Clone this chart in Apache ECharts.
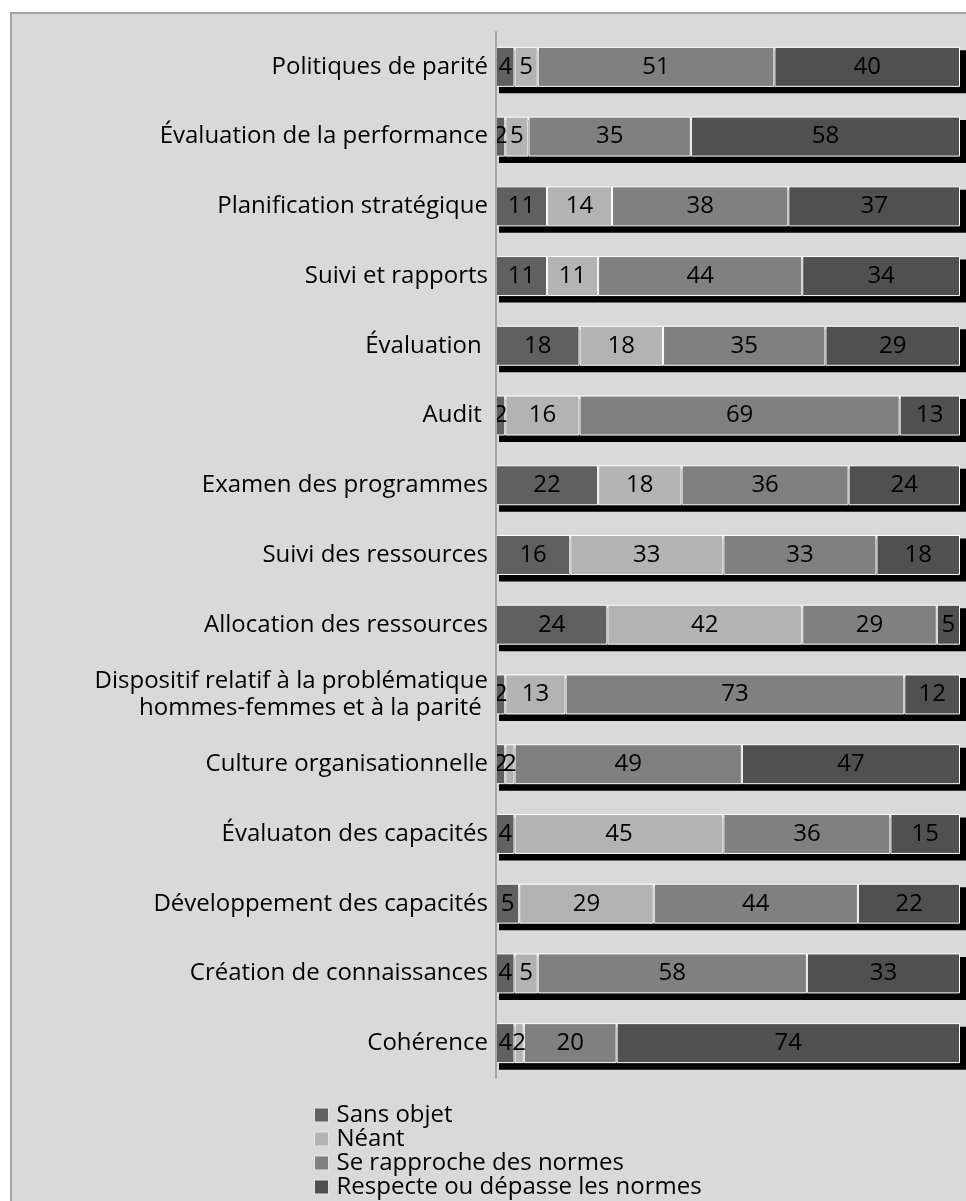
<!DOCTYPE html>
<html>
<head>
<meta charset="utf-8">
<script src="https://cdn.jsdelivr.net/npm/echarts@6/dist/echarts.min.js"></script>
<style>
html,body{margin:0;padding:0;background:#fff;}
#chart{width:966px;height:1201px;}
</style>
</head>
<body>
<div id="chart"></div>
<script>
const categories = [
  "Politiques de parité",
  "Évaluation de la performance",
  "Planification stratégique",
  "Suivi et rapports",
  "Évaluation ",
  "Audit ",
  "Examen des programmes",
  "Suivi des ressources",
  "Allocation des ressources",
  "Dispositif relatif à la problématique\nhommes-femmes et à la parité ",
  "Culture organisationnelle",
  "Évaluaton des capacités",
  "Développement des capacités",
  "Création de connaissances",
  "Cohérence"
];
const seriesNames = ["Sans objet", "Néant", "Se rapproche des normes", "Respecte ou dépasse les normes"];
const sansObjet   = [4, 2, 11, 11, 18, 2, 22, 16, 24, 2, 2, 4, 5, 4, 4];
const neant       = [5, 5, 14, 11, 18, 16, 18, 33, 42, 13, 2, 45, 29, 5, 2];
const seRapproche = [51, 35, 38, 44, 35, 69, 36, 33, 29, 73, 49, 36, 44, 58, 20];
const respecte    = [40, 58, 37, 34, 29, 13, 24, 18, 5, 12, 47, 15, 22, 33, 74];
const colors = ["#606060", "#b3b3b3", "#808080", "#505050"];

const FONT = "Open Sans";
const values = [sansObjet, neant, seRapproche, respecte];
const totals = categories.map((_, k) => values.reduce((s, arr) => s + arr[k], 0));

const chart = echarts.init(document.getElementById('chart'), null, {renderer: 'canvas'});
chart.setOption({
  animation: false,
  backgroundColor: '#ffffff',
  textStyle: {fontFamily: FONT},
  graphic: [{
    type: 'rect', z: -100, silent: true,
    shape: {x: 11, y: 13, width: 1000, height: 1300},
    style: {fill: '#d9d9d9', stroke: '#a6a6a6', lineWidth: 2}
  }],
  grid: [
    {left: 496, right: 6, top: 32, height: 1046, containLabel: false},
    {left: 499, right: 0, top: 37, height: 1046, containLabel: false}
  ],
  xAxis: [
    {type: 'value', min: 0, max: 100, show: false, gridIndex: 0},
    {type: 'value', min: 0, max: 100, show: false, gridIndex: 1}
  ],
  yAxis: [{
    type: 'category', data: categories, inverse: true, gridIndex: 0, z: 3,
    axisLine: {show: true, lineStyle: {color: '#a6a6a6', width: 2}},
    axisTick: {show: false},
    axisLabel: {color: '#000', fontSize: 24, fontFamily: FONT, margin: 8, lineHeight: 27, align: 'right'}
  }, {
    type: 'category', data: categories, inverse: true, gridIndex: 1, show: false
  }],
  legend: {
    orient: 'vertical', left: 309, top: 1098, height: 200,
    itemWidth: 14, itemHeight: 14, itemGap: 0,
    icon: 'rect',
    itemStyle: {borderColor: '#e6e6e6', borderWidth: 1},
    textStyle: {color: '#000', fontSize: 24, fontFamily: FONT, lineHeight: 23, padding: [0, 0, 0, 3]},
    data: seriesNames
  },
  series: [{
    name: 'ombre', type: 'bar', xAxisIndex: 1, yAxisIndex: 1, barWidth: 43,
    data: totals, z: 1, silent: true,
    itemStyle: {color: '#000'},
    emphasis: {disabled: true}
  }].concat(seriesNames.map((name, i) => ({
    name: name, type: 'bar', stack: 'total', barWidth: 40, z: 2,
    data: values[i],
    itemStyle: {color: colors[i], borderColor: '#ffffff', borderWidth: 1},
    label: {show: true, position: 'inside', color: '#000', fontSize: 24, fontFamily: FONT, formatter: '{c}'},
    emphasis: {disabled: true}
  })))
});
</script>
</body>
</html>
